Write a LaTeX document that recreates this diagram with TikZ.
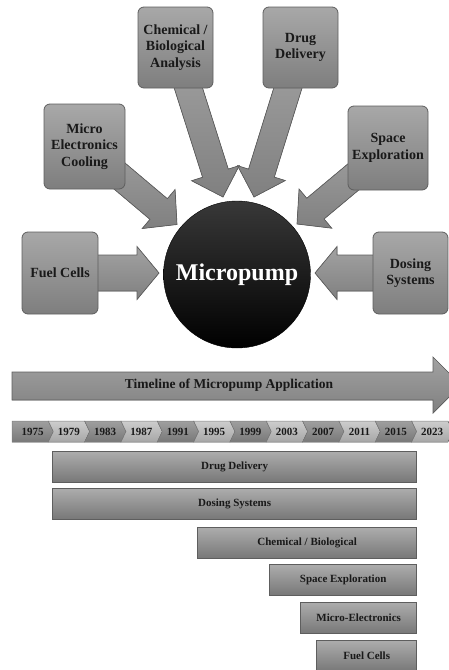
\documentclass[tikz,border=0pt]{standalone}
\usepackage{fontspec}
\setmainfont{Liberation Serif}
\usetikzlibrary{calc}
\pgfdeclarelayer{back}
\pgfsetlayers{back,main}

\definecolor{boxtop}{HTML}{A8A8A8}
\definecolor{boxbot}{HTML}{7E7E7E}
\definecolor{edge}{HTML}{5E5E5E}
\definecolor{arrtop}{HTML}{A2A2A2}
\definecolor{arrbot}{HTML}{808080}
\definecolor{yrdark}{HTML}{8E8E8E}
\definecolor{yrlight}{HTML}{C4C4C4}

\tikzset{
  appbox/.style={draw=edge, line width=0.8pt, rounded corners=6pt,
    top color=boxtop, bottom color=boxbot, align=center,
    font=\fontsize{14}{16.5}\selectfont\bfseries, text=black!90},
  fatshape/.style={draw=edge, line width=0.7pt, top color=arrtop, bottom color=arrbot},
  barbox/.style={draw=edge, line width=0.7pt, top color=boxtop!95, bottom color=boxbot!95!black,
    anchor=north east, minimum height=31pt, inner sep=0pt,
    font=\fontsize{11}{13}\selectfont\bfseries, text=black!90},
  yrlabel/.style={font=\fontsize{11}{13}\selectfont\bfseries, text=black!90, inner sep=0pt}
}

% wide block arrow from node #1 to point #2
% #3 shaft half width, #4 head half width, #5 head length
\newcommand\fatarrow[5]{%
  \filldraw[fatshape]
    ($(#1)!#3!90:(#2)$) --
    ($(#2)!#5!(#1)!#3!-90:(#1)$) --
    ($(#2)!#5!(#1)!#4!-90:(#1)$) --
    (#2) --
    ($(#2)!#5!(#1)!#4!90:(#1)$) --
    ($(#2)!#5!(#1)!#3!90:(#1)$) --
    ($(#1)!#3!-90:(#2)$) -- cycle;}

\begin{document}
\begin{tikzpicture}[x=1pt, y=-1pt]
\useasboundingbox (0,0) rectangle (449,670);

% application boxes
\node[appbox, minimum width=75pt, minimum height=81pt] (chem) at (175.5,47.5) {Chemical /\\Biological\\Analysis};
\node[appbox, minimum width=75pt, minimum height=81pt] (drug) at (300.5,47.5) {Drug\\Delivery};
\node[appbox, minimum width=81pt, minimum height=85pt] (micro) at (84.5,146.5) {Micro\\Electronics\\Cooling};
\node[appbox, minimum width=80pt, minimum height=84pt] (space) at (388,148) {Space\\Exploration};
\node[appbox, minimum width=76pt, minimum height=82pt] (fuel) at (60,273) {Fuel Cells};
\node[appbox, minimum width=75pt, minimum height=82pt] (dosing) at (410.5,273) {Dosing\\Systems};

% central pump
\node[circle, minimum size=147pt, inner sep=0pt, draw=black,
      top color=black!78, middle color=black, bottom color=black,
      font=\fontsize{24}{28}\selectfont\bfseries, text=white] (pump) at (237,274.5) {Micropump};

% arrow tips
\coordinate (tchem) at (223,197);
\coordinate (tdrug) at (254,197);
\coordinate (tmicro) at (177,224.5);
\coordinate (tspace) at (297,224);
\coordinate (tfuel) at (159,273);
\coordinate (tdose) at (315,273);

\begin{pgfonlayer}{back}
  \fatarrow{chem}{tchem}{13.5pt}{25pt}{25pt}
  \fatarrow{drug}{tdrug}{13.5pt}{25pt}{25pt}
  \fatarrow{micro}{tmicro}{13.5pt}{25.5pt}{24pt}
  \fatarrow{space}{tspace}{13.5pt}{25.5pt}{24pt}
  \fatarrow{fuel}{tfuel}{18pt}{26.5pt}{22pt}
  \fatarrow{dosing}{tdose}{18pt}{26.5pt}{22pt}
\end{pgfonlayer}

% timeline arrow
\filldraw[fatshape] (12,372) -- (433,372) -- (433,357) -- (461,385) -- (433,413)
  -- (433,400) -- (12,400) -- cycle;
\node[font=\fontsize{13.5}{16}\selectfont\bfseries, text=black!90] (tl) at (229,385)
  {Timeline of Micropump Application};

% year chevrons
\foreach \yr [count=\i from 0] in {1975,1979,1983,1987,1991,1995,1999,2003,2007,2011,2015,2023} {
  \pgfmathsetmacro\xa{12+\i*36.33}
  \pgfmathsetmacro\xb{12+(\i+1)*36.33}
  \pgfmathsetmacro\notch{\i==0 ? 0 : 5}
  \pgfmathsetmacro\shade{mod(\i,2)==0 ? 1 : 0}
  \ifdim\shade pt>0.5pt
    \def\yc{yrdark}
  \else
    \def\yc{yrlight}
  \fi
  \filldraw[draw=edge!80, line width=0.5pt, top color=\yc!85!white, bottom color=\yc!85!black]
    (\xa,421) -- (\xb,421) -- (\xb+5,431.5) -- (\xb,442) -- (\xa,442) -- (\xa+\notch,431.5) -- cycle;
  \node[yrlabel] (y\yr) at (\xa+20.5,431.5) {\yr};
}

% application bars
\node[barbox, minimum width=364pt] (bdrug) at (417,451) {Drug Delivery};
\node[barbox, minimum width=364pt] (bdose) at (417,488) {Dosing Systems};
\node[barbox, minimum width=219pt] (bchem) at (417,527) {Chemical / Biological};
\node[barbox, minimum width=147pt] (bspace) at (417,564) {Space Exploration};
\node[barbox, minimum width=116pt] (bmicro) at (417,602) {Micro-Electronics};
\node[barbox, minimum width=100pt] (bfuel) at (417,640) {Fuel Cells};
\end{tikzpicture}
\end{document}
